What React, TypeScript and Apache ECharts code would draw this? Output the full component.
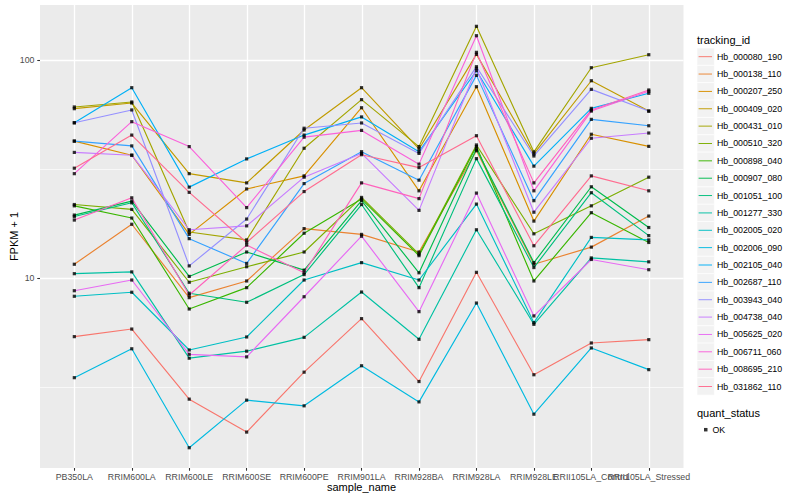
import React, { useEffect, useRef } from "react";
import * as echarts from "echarts";

const categories = [
  "PB350LA",
  "RRIM600LA",
  "RRIM600LE",
  "RRIM600SE",
  "RRIM600PE",
  "RRIM901LA",
  "RRIM928BA",
  "RRIM928LA",
  "RRIM928LE",
  "RRII105LA_Control",
  "RRII105LA_Stressed",
];

const trackingIds = [
  "Hb_000080_190",
  "Hb_000138_110",
  "Hb_000207_250",
  "Hb_000409_020",
  "Hb_000431_010",
  "Hb_000510_320",
  "Hb_000898_040",
  "Hb_000907_080",
  "Hb_001051_100",
  "Hb_001277_330",
  "Hb_002005_020",
  "Hb_002006_090",
  "Hb_002105_040",
  "Hb_002687_110",
  "Hb_003943_040",
  "Hb_004738_040",
  "Hb_005625_020",
  "Hb_006711_060",
  "Hb_008695_210",
  "Hb_031862_110",
];

const seriesColors = [
  "#F8766D", "#EA8331", "#D89000", "#C09B00", "#A3A500",
  "#7CAE00", "#39B600", "#00BB4E", "#00BF7D", "#00C1A3",
  "#00BFC4", "#00BAE0", "#00B0F6", "#35A2FF", "#9590FF",
  "#C77CFF", "#E76BF3", "#FA62DB", "#FF62BC", "#FF6C90",
];

// FPKM + 1 values, one per sample (same order as categories)
const hb000080_190 = [5.4, 5.85, 2.79, 1.97, 3.71, 6.53, 3.36, 10.65, 3.61, 5.05, 5.23];
const hb000138_110 = [11.6, 17.7, 8.15, 9.72, 16.9, 15.9, 13.2, 38.5, 11.6, 13.9, 19.3];
const hb000207_250 = [42.6, 36.7, 15.9, 25.7, 29.5, 60.6, 25.2, 75.7, 18.3, 45.8, 40.3];
const hb000409_020 = [60.0, 63.7, 30.2, 27.4, 47.9, 74.9, 39.2, 106.5, 37.2, 80.6, 58.5];
const hb000431_010 = [61.1, 64.4, 16.3, 15.0, 39.5, 66.0, 40.2, 143.2, 38.0, 92.5, 106.1];
const hb000510_320 = [21.8, 20.7, 9.59, 11.3, 13.2, 23.5, 12.9, 40.9, 16.0, 21.5, 29.1];
const hb000898_040 = [21.5, 18.9, 7.23, 9.06, 16.1, 23.1, 12.7, 40.2, 9.72, 20.0, 14.6];
const hb000907_080 = [19.5, 22.6, 10.2, 13.2, 10.9, 22.7, 10.6, 39.2, 11.8, 26.3, 17.1];
const hb001051_100 = [19.2, 22.2, 8.54, 7.76, 10.4, 21.8, 9.06, 35.4, 11.2, 24.7, 15.7];
const hb001277_330 = [10.5, 10.7, 4.3, 4.63, 5.36, 8.65, 5.25, 16.7, 6.15, 12.4, 11.9];
const hb002005_020 = [8.27, 8.63, 4.69, 5.38, 9.82, 11.8, 9.82, 21.9, 6.26, 15.4, 15.0];
const hb002006_090 = [3.5, 4.75, 1.67, 2.76, 2.6, 3.97, 2.71, 7.7, 2.38, 4.79, 3.81];
const hb002105_040 = [51.7, 74.9, 26.2, 35.3, 45.4, 55.0, 38.1, 89.6, 32.7, 60.2, 70.6];
const hb002687_110 = [42.6, 40.5, 15.2, 11.7, 27.2, 38.1, 28.2, 85.3, 22.7, 53.6, 50.1];
const hb003943_040 = [51.7, 59.2, 11.4, 18.7, 48.8, 51.6, 37.4, 93.5, 36.4, 73.6, 58.5];
const hb004738_040 = [37.8, 36.7, 16.7, 17.4, 29.1, 37.4, 20.5, 91.9, 20.1, 43.9, 46.4];
const hb005625_020 = [8.77, 9.82, 4.48, 4.36, 8.23, 15.6, 7.03, 24.6, 6.72, 12.2, 10.95];
const hb006711_060 = [30.2, 52.3, 40.2, 21.1, 44.4, 47.7, 33.4, 129.7, 25.2, 58.5, 72.1];
const hb008695_210 = [18.5, 23.4, 8.38, 14.2, 10.6, 27.4, 23.2, 108.8, 27.4, 59.2, 73.1];
const hb031862_110 = [32.0, 45.4, 24.8, 14.6, 25.0, 36.9, 32.2, 45.1, 14.1, 29.5, 25.2];

const seriesValues = [
  hb000080_190, hb000138_110, hb000207_250, hb000409_020, hb000431_010,
  hb000510_320, hb000898_040, hb000907_080, hb001051_100, hb001277_330,
  hb002005_020, hb002006_090, hb002105_040, hb002687_110, hb003943_040,
  hb004738_040, hb005625_020, hb006711_060, hb008695_210, hb031862_110,
];

const quantStatus = ["OK"];
const yTickValues = [10, 100];
const yMinorValues = [Math.sqrt(10), Math.sqrt(1000)];
const Y_MIN = 1.348;
const Y_MAX = 179.4;

const FONT = "'Liberation Sans', Arial, Helvetica, sans-serif";

export default function App() {
  const ref = useRef<HTMLDivElement>(null);

  useEffect(() => {
    if (!ref.current) return;
    const chart = echarts.init(ref.current, undefined, { renderer: "svg" });

    const lineSeries = trackingIds.map((id, k) => ({
      name: id,
      type: "line",
      xAxisIndex: 0,
      yAxisIndex: 0,
      data: seriesValues[k],
      showSymbol: false,
      symbol: "none",
      silent: true,
      z: 2,
      color: seriesColors[k],
      itemStyle: { color: seriesColors[k] },
      lineStyle: { color: seriesColors[k], width: 1.15 },
    }));

    const pointData: [string, number][] = [];
    seriesValues.forEach((vals) => {
      vals.forEach((v, i) => pointData.push([categories[i], v]));
    });

    const keyStep = 17.36;
    const keyTop = 48;
    const keyRects = trackingIds.map((_, i) => ({
      type: "rect",
      shape: { x: 697, y: keyTop + i * keyStep, width: 17.3, height: 17.3 },
      style: { fill: "#F2F2F2", stroke: "#FFFFFF", lineWidth: 0.6 },
      z: 0,
      silent: true,
    }));

    const option: any = {
      animation: false,
      textStyle: { fontFamily: FONT },
      grid: [
        { left: 45.6, right: 122.5, top: 5, bottom: 32, show: false, outerBoundsMode: "none" },
        {
          left: 40, right: 116.5, top: 5, bottom: 32, show: true,
          backgroundColor: "#EBEBEB", borderWidth: 0, outerBoundsMode: "none",
        },
      ],
      xAxis: [
        {
          gridIndex: 0,
          type: "category",
          data: categories,
          boundaryGap: true,
          axisLine: { show: false, onZero: false },
          axisTick: { show: true, alignWithLabel: true, interval: 0, length: 2.75, lineStyle: { color: "#333333", width: 1.07 } },
          axisLabel: { interval: 0, hideOverlap: false, color: "#4D4D4D", fontSize: 8.8, margin: 4.5, fontFamily: FONT },
          splitLine: { show: false },
          name: "sample_name",
          nameLocation: "middle",
          nameGap: 13.5,
          nameMoveOverlap: false,
          nameTextStyle: { fontSize: 11, color: "#000000", fontFamily: FONT },
        },
        {
          gridIndex: 1,
          type: "value",
          min: -0.6,
          max: categories.length - 0.4,
          axisLine: { show: false, onZero: false },
          axisLabel: { show: false },
          axisTick: { show: false, customValues: categories.map((_, i) => i) },
          splitLine: { show: true, lineStyle: { color: "#FFFFFF", width: 1.3 } },
        },
      ],
      yAxis: [
        { gridIndex: 0, type: "log", logBase: 10, min: Y_MIN, max: Y_MAX, show: false, axisLine: { onZero: false } },
        {
          gridIndex: 1,
          type: "value",
          position: "left",
          min: Math.log10(Y_MIN),
          max: Math.log10(Y_MAX),
          axisLine: { show: false, onZero: false },
          axisTick: {
            show: true, inside: false, length: 2.75,
            customValues: yTickValues.map((v) => Math.log10(v)),
            lineStyle: { color: "#333333", width: 1.07 },
          },
          axisLabel: {
            customValues: yTickValues.map((v) => Math.log10(v)),
            formatter: (e: number) => String(Math.round(Math.pow(10, e))),
            color: "#4D4D4D",
            fontSize: 8.8,
            margin: 5.5,
            fontFamily: FONT,
          },
          splitLine: { show: true, lineStyle: { color: "#FFFFFF", width: 1.3 } },
          name: "FPKM + 1",
          nameLocation: "middle",
          nameGap: 21,
          nameMoveOverlap: false,
          nameTextStyle: { fontSize: 11, color: "#000000", fontFamily: FONT },
        },
        {
          gridIndex: 1,
          type: "value",
          position: "right",
          min: Math.log10(Y_MIN),
          max: Math.log10(Y_MAX),
          axisLine: { show: false, onZero: false },
          axisLabel: { show: false },
          axisTick: { show: false, customValues: yMinorValues.map((v) => Math.log10(v)) },
          splitLine: { show: true, lineStyle: { color: "#FFFFFF", width: 0.65 } },
        },
      ],
      legend: [
        {
          orient: "vertical",
          left: 698.6,
          top: keyTop,
          padding: 0,
          itemGap: 0,
          itemWidth: 13.4,
          itemHeight: keyStep,
          icon: "path://M0,0H14V1H0Z",
          selectedMode: false,
          data: trackingIds,
          textStyle: { fontSize: 8.8, color: "#000000", lineHeight: keyStep, fontFamily: FONT },
        },
        {
          orient: "vertical",
          left: 704,
          top: 424.2,
          padding: 0,
          itemGap: 0,
          itemWidth: 3.5,
          itemHeight: 3.5,
          icon: "rect",
          selectedMode: false,
          data: quantStatus,
          textStyle: { fontSize: 8.8, color: "#000000", lineHeight: 11, fontFamily: FONT },
        },
      ],
      graphic: [
        ...keyRects,
        {
          type: "text",
          x: 697,
          y: 40,
          silent: true,
          style: { text: "tracking_id", fontSize: 11, fill: "#000000", fontFamily: FONT, verticalAlign: "middle" },
        },
        {
          type: "text",
          x: 697,
          y: 413,
          silent: true,
          style: { text: "quant_status", fontSize: 11, fill: "#000000", fontFamily: FONT, verticalAlign: "middle" },
        },
      ],
      series: [
        ...lineSeries,
        {
          name: quantStatus[0],
          type: "scatter",
          xAxisIndex: 0,
          yAxisIndex: 0,
          data: pointData,
          symbol: "rect",
          symbolSize: 3.2,
          silent: true,
          z: 3,
          itemStyle: { color: "#000000" },
        },
      ],
    };

    chart.setOption(option);
    return () => chart.dispose();
  }, []);

  return (
    <div
      ref={ref}
      style={{ position: "absolute", left: 0, top: 0, width: 800, height: 500 }}
    />
  );
}
